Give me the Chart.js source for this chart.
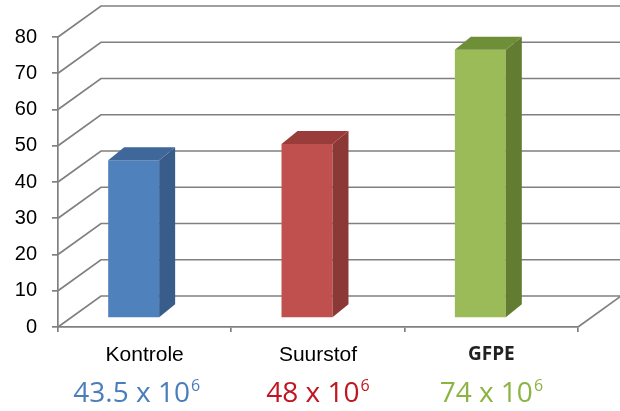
<!DOCTYPE html>
<html>
<head>
<meta charset="utf-8">
<script src="https://cdn.jsdelivr.net/npm/chart.js@4"></script>
<style>
  html, body { margin: 0; padding: 0; background: #fff; }
  #wrap { width: 620px; height: 411px; }
</style>
</head>
<body>
<div id="wrap"><canvas id="chart"></canvas></div>
<script>
const categories = ["Kontrole", "Suurstof", "GFPE"];
const counts = [43.5, 48, 74];
const countLabels = ["43.5 x 10", "48 x 10", "74 x 10"];
const countExponent = "6";
const yMin = 0, yMax = 80, yStep = 10;

const frontColors = ["#4f81bd", "#c0504d", "#9bbb59"];
const sideColors = ["#385d8a", "#8c3836", "#627d32"];
const topColors = ["#3f6799", "#9a3d3a", "#6f8e38"];
const labelColors = ["#4a7ebb", "#c0161f", "#8cb443"];

const wall = { dx: 43, dy: -31 };     // depth of the back wall
const box = { dx: 16, dy: -13 };      // depth of one bar
const shift = { dx: -11, dy: -9 };    // bars stand a bit behind the front edge

const gridColor = "#808080";

const threeD = {
  id: "threeD",
  beforeDatasetsDraw(chart) {
    const { ctx, chartArea } = chart;
    const { left, right, bottom } = chartArea;
    const y = chart.scales.y;
    ctx.save();
    ctx.strokeStyle = gridColor;
    ctx.lineWidth = 1.7;
    y.ticks.forEach(t => {
      const py = y.getPixelForValue(t.value);
      ctx.beginPath();
      ctx.moveTo(left, py);
      ctx.lineTo(left + wall.dx, py + wall.dy);
      ctx.lineTo(right + wall.dx, py + wall.dy);
      ctx.stroke();
    });
    ctx.beginPath();
    ctx.moveTo(right, bottom);
    ctx.lineTo(right + wall.dx, bottom + wall.dy);
    ctx.stroke();
    ctx.restore();
  },
  beforeDatasetDraw(chart) {
    chart.ctx.save();
    chart.ctx.translate(shift.dx, shift.dy);
  },
  afterDatasetDraw(chart, args) {
    const ctx = chart.ctx;
    ctx.restore();
    args.meta.data.forEach((bar, i) => {
      const p = bar.getProps(["x", "y", "base", "width"], true);
      const x0 = p.x - p.width / 2 + shift.dx;
      const x1 = p.x + p.width / 2 + shift.dx;
      const yt = p.y + shift.dy;
      const yb = p.base + shift.dy;
      ctx.save();
      ctx.fillStyle = sideColors[i];
      ctx.beginPath();
      ctx.moveTo(x1, yt);
      ctx.lineTo(x1 + box.dx, yt + box.dy);
      ctx.lineTo(x1 + box.dx, yb + box.dy);
      ctx.lineTo(x1, yb);
      ctx.closePath();
      ctx.fill();
      ctx.fillStyle = topColors[i];
      ctx.beginPath();
      ctx.moveTo(x0, yt);
      ctx.lineTo(x0 + box.dx, yt + box.dy);
      ctx.lineTo(x1 + box.dx, yt + box.dy);
      ctx.lineTo(x1, yt);
      ctx.closePath();
      ctx.fill();
      ctx.restore();
    });
  },
  afterDraw(chart) {
    const { ctx } = chart;
    const x = chart.scales.x;
    const base = 402;
    ctx.save();
    ctx.textBaseline = "alphabetic";
    ctx.textAlign = "left";
    countLabels.forEach((txt, i) => {
      ctx.font = "28px 'Open Sans'";
      const w1 = ctx.measureText(txt).width;
      ctx.font = "16px 'Open Sans'";
      const w2 = ctx.measureText(countExponent).width;
      const start = x.getPixelForValue(i) - (w1 + w2 + 1) / 2 - (i === 0 ? 8 : 0);
      ctx.fillStyle = labelColors[i];
      ctx.font = "28px 'Open Sans'";
      ctx.fillText(txt, start, base);
      ctx.font = "16px 'Open Sans'";
      ctx.fillText(countExponent, start + w1 + 1, base - 11);
    });
    ctx.restore();
  }
};

new Chart(document.getElementById("chart"), {
  type: "bar",
  data: {
    labels: categories,
    datasets: [{
      data: counts,
      backgroundColor: frontColors,
      borderWidth: 0,
      categoryPercentage: 1,
      barPercentage: 0.294
    }]
  },
  options: {
    responsive: true,
    maintainAspectRatio: false,
    animation: false,
    layout: { padding: { top: 37, right: 42, bottom: 0, left: 0 } },
    plugins: { legend: { display: false }, tooltip: { enabled: false } },
    scales: {
      x: {
        afterFit(scale) { scale.height = 84; },
        grid: { drawOnChartArea: false, tickLength: 5, color: gridColor, lineWidth: 1.7 },
        border: { color: gridColor, width: 1.7 },
        ticks: {
          color: ctx => ctx.index === 2 ? "#222" : "#000",
          padding: 11,
          font: ctx => ctx.index === 2
            ? { family: "'Open Sans'", size: 19, weight: "bold" }
            : { family: "'Liberation Sans', Arial", size: 21 }
        }
      },
      y: {
        min: yMin,
        max: yMax,
        afterFit(scale) { scale.width = 58; },
        grid: { drawOnChartArea: false, tickLength: 6, color: gridColor, lineWidth: 1.7 },
        border: { color: gridColor, width: 1.7 },
        ticks: {
          stepSize: yStep,
          color: "#000",
          padding: 15,
          font: { family: "'Liberation Sans', Arial", size: 20 }
        }
      }
    }
  },
  plugins: [threeD]
});
</script>
</body>
</html>
